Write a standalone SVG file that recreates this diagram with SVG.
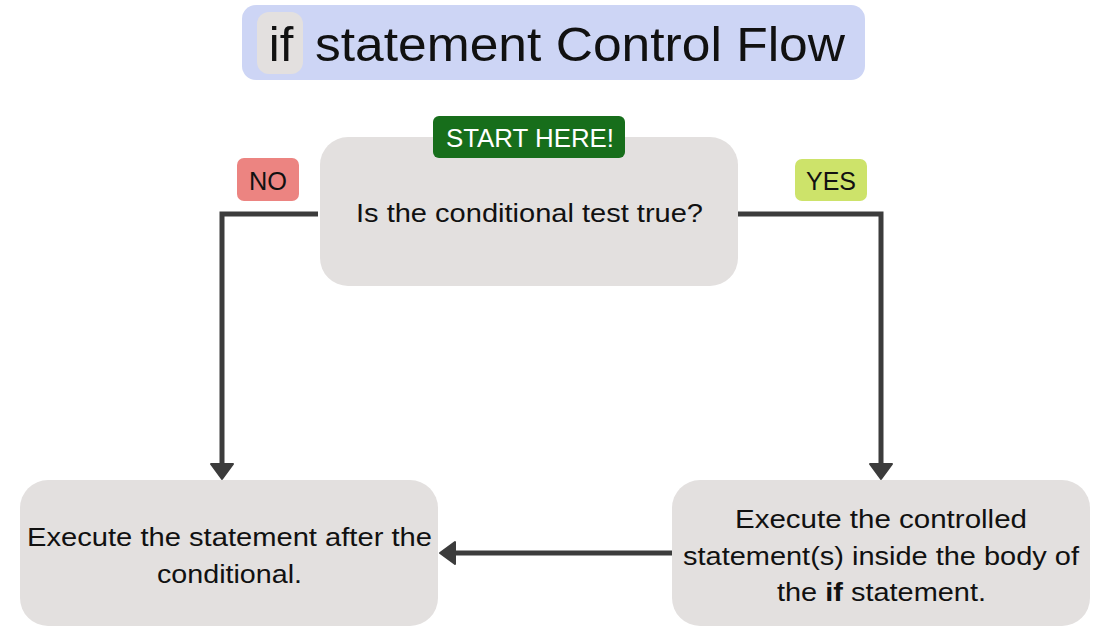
<svg xmlns="http://www.w3.org/2000/svg" width="1104" height="627" viewBox="0 0 1104 627">
<style>
.t{font-family:"Liberation Sans",Arial,sans-serif;fill:#111;}
.b{font-size:25px;}
.box{fill:#E3E0DF;}
.ln{fill:none;stroke:#3C3C3C;stroke-width:5;}
.ah{fill:#3C3C3C;stroke:#3C3C3C;stroke-width:2;stroke-linejoin:round;}
</style>
<rect width="1104" height="627" fill="#fff"/>
<g id="title">
<rect x="242" y="5" width="623" height="75" rx="14" fill="#CDD5F5"/>
<rect x="257" y="12" width="46" height="62" rx="12" fill="#E3E0DF"/>
<text class="t" x="281" y="61" font-size="49" text-anchor="middle">if</text>
<text class="t" x="315" y="61" font-size="49" textLength="530" lengthAdjust="spacingAndGlyphs">statement Control Flow</text>
</g>
<g id="connectors">
<polyline class="ln" points="318,214 222,214 222,464"/>
<polygon class="ah" points="211,464 233,464 222,479"/>
<polyline class="ln" points="738,214 881,214 881,464"/>
<polygon class="ah" points="870,464 892,464 881,479"/>
<line class="ln" x1="672" y1="553" x2="455" y2="553"/>
<polygon class="ah" points="455,542 455,564 440,553"/>
</g>
<g id="node-test">
<rect class="box" x="320" y="137" width="418" height="149" rx="28"/>
<text class="t b" x="356" y="222" textLength="347" lengthAdjust="spacingAndGlyphs">Is the conditional test true?</text>
</g>
<g id="badge-start">
<rect x="433" y="116" width="192" height="42" rx="6" fill="#176E1B"/>
<text class="t" x="446" y="147" font-size="26" textLength="168" lengthAdjust="spacingAndGlyphs" style="fill:#fff">START HERE!</text>
</g>
<g id="badge-no">
<rect x="237" y="158" width="62" height="43" rx="7" fill="#EC8481"/>
<text class="t" x="249" y="190" font-size="26" textLength="38" lengthAdjust="spacingAndGlyphs">NO</text>
</g>
<g id="badge-yes">
<rect x="795" y="159" width="72" height="42" rx="7" fill="#CDE36A"/>
<text class="t" x="806" y="190" font-size="26" textLength="50" lengthAdjust="spacingAndGlyphs">YES</text>
</g>
<g id="node-after">
<rect class="box" x="20" y="480" width="418" height="146" rx="28"/>
<text class="t b" x="27" y="546" textLength="405" lengthAdjust="spacingAndGlyphs">Execute the statement after the</text>
<text class="t b" x="157" y="583" textLength="145" lengthAdjust="spacingAndGlyphs">conditional.</text>
</g>
<g id="node-body">
<rect class="box" x="672" y="480" width="418" height="146" rx="28"/>
<text class="t b" x="735" y="528" textLength="292" lengthAdjust="spacingAndGlyphs">Execute the controlled</text>
<text class="t b" x="683" y="565" textLength="396" lengthAdjust="spacingAndGlyphs">statement(s) inside the body of</text>
<text class="t b" x="777" y="601" textLength="209" lengthAdjust="spacingAndGlyphs">the <tspan font-weight="bold">if</tspan> statement.</text>
</g>
</svg>
